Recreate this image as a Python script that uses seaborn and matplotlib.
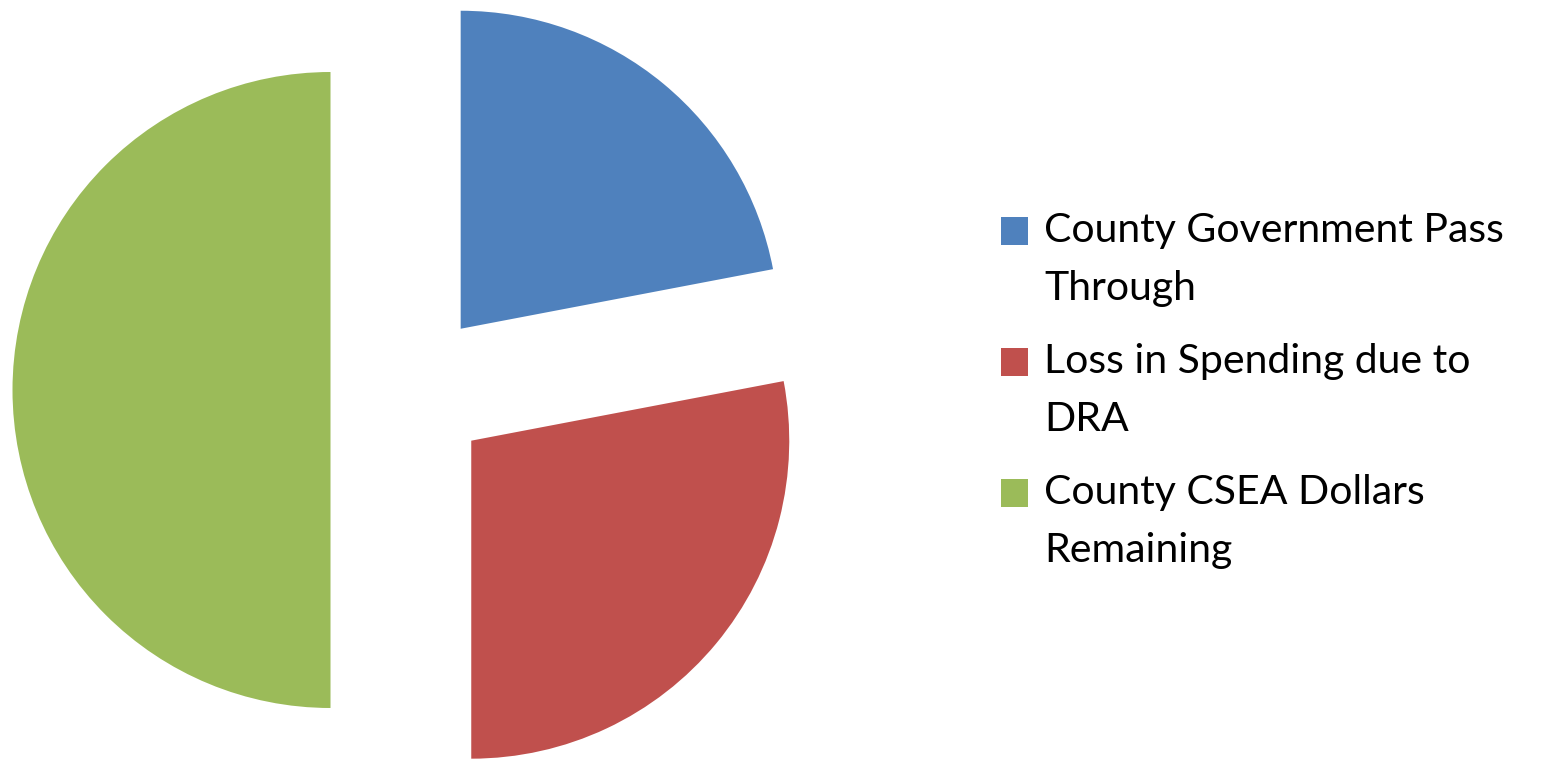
import matplotlib
matplotlib.use("Agg")
import matplotlib.pyplot as plt
import seaborn as sns

# share of county CSEA dollars
categories = ["County Government Pass\nThrough",
              "Loss in Spending due to\nDRA",
              "County CSEA Dollars\nRemaining"]
shares = [22, 28, 50]
colors = ["#4F81BD", "#C0504D", "#9BBB59"]

sns.set_theme(style="white")
plt.rcParams["font.family"] = ["Lato", "DejaVu Sans"]

W, H, DPI = 1552, 762, 100
fig = plt.figure(figsize=(W / DPI, H / DPI), dpi=DPI)
ax = fig.add_axes([0, 0, 1, 1])

# pie centre / radius in pixels
cx, cy, r = 410, 390, 318

wedges, _ = ax.pie(shares, colors=colors, startangle=90, counterclock=False,
                   explode=[0.25, 0.25, 0.25], radius=1.0,
                   wedgeprops=dict(linewidth=0))
ax.set_xlim(-cx / r, (W - cx) / r)
ax.set_ylim(-(H - cy) / r, cy / r)
ax.set_aspect("equal", adjustable="datalim")

fs = 29.5
leg = ax.legend(wedges, categories, loc="upper left",
                bbox_to_anchor=(1001 / W, 1 - 212 / H),
                frameon=False, prop=dict(size=fs),
                handlelength=0.66, handleheight=0.66, handletextpad=0.4,
                labelspacing=0.88, borderaxespad=0, borderpad=0)
for t in leg.get_texts():
    t.set_color("black")
    t.set_linespacing(1.7)
# square sits beside the first line of each label, not the middle
for h in leg.legend_handles:
    h.set_y(h.get_y() + 21)

fig.savefig("out.png", dpi=DPI)
